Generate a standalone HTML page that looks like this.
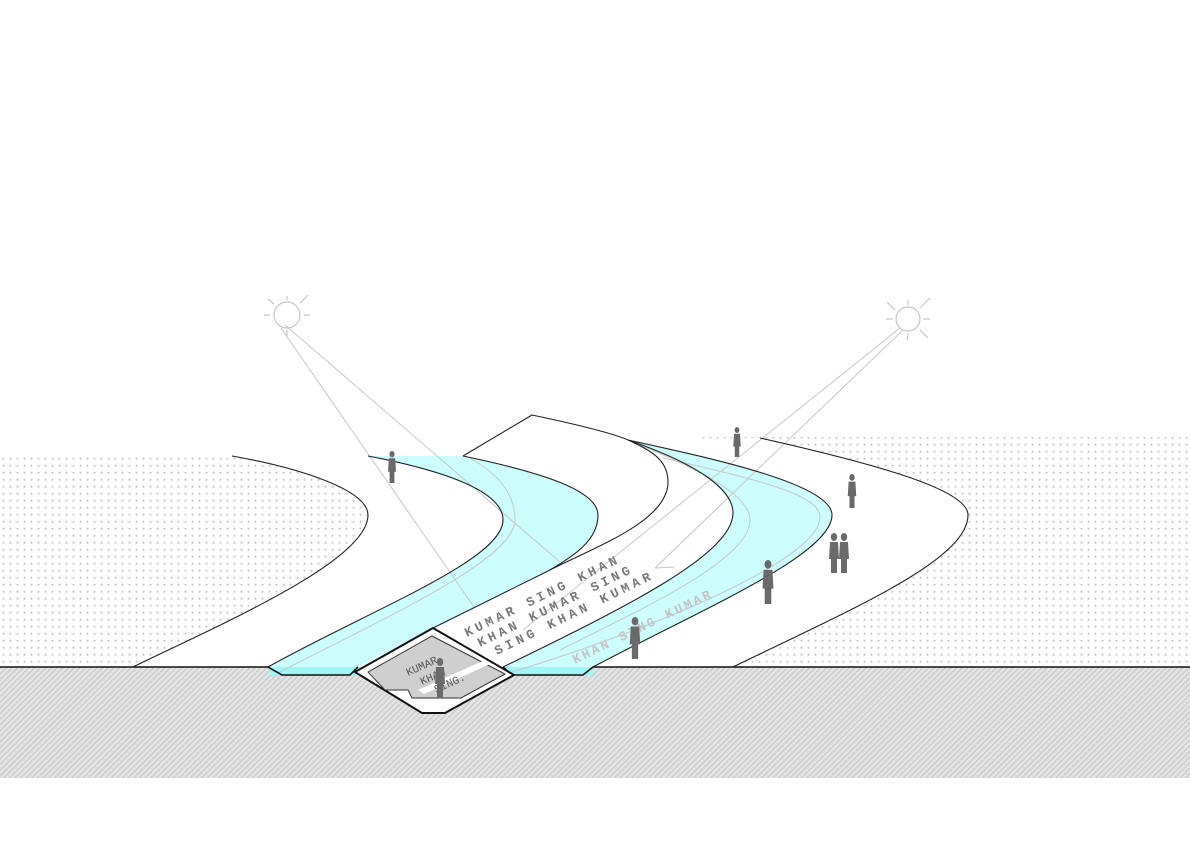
<!DOCTYPE html>
<html><head><meta charset="utf-8"><style>
html,body{margin:0;padding:0;background:#fff;}
svg{display:block;}
</style></head><body>
<svg width="1190" height="841" viewBox="0 0 1190 841" xmlns="http://www.w3.org/2000/svg">
<defs>
<pattern id="dots" width="7" height="7" patternUnits="userSpaceOnUse">
<rect x="3" y="2.5" width="1" height="2.5" fill="#cfcfcf"/>
<rect x="2.3" y="3.2" width="2.5" height="1" fill="#cfcfcf"/>
</pattern>
<pattern id="hatch" width="4" height="4" patternUnits="userSpaceOnUse" patternTransform="rotate(45)">
<rect width="4" height="4" fill="#e4e4e4"/>
<rect width="1.3" height="4" fill="#c9c9c9"/>
</pattern>
<g id="p">
<ellipse cx="0" cy="-36" rx="3.2" ry="4" fill="#6a6a6a"/>
<path d="M-4,-31 L4,-31 L5,-14 L3,-14 L3,0 L-3,0 L-3,-14 L-5,-14 Z" fill="#6a6a6a"/>
</g>
</defs>
<rect x="0" y="0" width="1190" height="841" fill="#fff"/>
<rect x="0" y="455" width="500" height="212" fill="url(#dots)"/>
<rect x="700" y="437" width="490" height="230" fill="url(#dots)"/>
<rect x="0" y="667" width="1190" height="111" fill="url(#hatch)"/>

<path d="M232,456 C300,468 368,490 368,515 C368,560 230,620 133,667 L733,667 C850,610 968,560 968,515 C968,490 880,465 760,438 L628,440 L532,415 L463,456 Z" fill="#fff"/>

<path d="M368,456 L463,456 C540,472 598,490 598,515 C598,540 575,555 550,570 L433,628 L358,667 L350,675 L282,675 L268,667 C370,610 503,560 503,520 C503,490 440,470 368,456 Z" fill="#ccfcfc"/>
<path d="M628,440 C655,452 668,462 668,482 C668,520 600,545 550,570 C575,555 598,540 598,515 C598,490 540,472 463,456 L532,415 C570,423 610,432 628,440 Z" fill="#fff"/>
<path d="M628,440 C720,460 832,485 832,515 C832,555 700,610 593,667 L583,675 L512,675 L503,667 C620,610 733,555 733,513 C733,490 700,465 628,440 Z" fill="#ccfcfc"/>
<rect x="270" y="667" width="90" height="8" fill="#9ff6f6"/>
<rect x="505" y="667" width="88" height="8" fill="#9ff6f6"/>

<g fill="none" stroke="#c8c8c8" stroke-width="1">
<path d="M470,458 C500,475 515,495 515,520 C515,560 380,620 278,673"/>
<path d="M663,458 C760,480 820,495 820,517 C820,560 650,630 512,672"/>
<path d="M640,445 C700,470 750,495 750,520 C750,560 640,610 560,650"/>
<line x1="281" y1="328" x2="474" y2="607"/>
<line x1="285" y1="325" x2="560" y2="562"/>
<line x1="900" y1="328" x2="523" y2="630"/>
<line x1="903" y1="330" x2="655" y2="568"/>
<line x1="655" y1="568" x2="675" y2="567"/>
</g>

<g fill="none" stroke="#c8c8c8" stroke-width="1.2">
<circle cx="287" cy="315" r="13"/>
<line x1="287" y1="296" x2="287" y2="300"/><line x1="287" y1="330" x2="287" y2="336"/>
<line x1="264" y1="315" x2="270" y2="315"/><line x1="304" y1="315" x2="310" y2="315"/>
<line x1="268" y1="299" x2="274" y2="304"/><line x1="300" y1="303" x2="308" y2="295"/>
<circle cx="908" cy="319" r="12"/>
<line x1="908" y1="300" x2="908" y2="305"/><line x1="908" y1="333" x2="907" y2="340"/>
<line x1="886" y1="319" x2="893" y2="319"/><line x1="923" y1="319" x2="930" y2="319"/>
<line x1="887" y1="302" x2="895" y2="310"/><line x1="920" y1="308" x2="930" y2="298"/>
<line x1="920" y1="330" x2="928" y2="338"/>
</g>

<g fill="none" stroke="#222" stroke-width="1.1">
<path d="M232,456 C300,468 368,490 368,515 C368,560 230,620 133,667"/>
<path d="M368,456 C440,470 503,490 503,520 C503,560 370,610 268,667"/>
<path d="M463,456 C540,472 598,490 598,515 C598,540 575,555 550,570 L433,628"/>
<path d="M463,456 L532,415 C570,423 610,432 628,440"/>
<path d="M628,440 C655,452 668,462 668,482 C668,520 600,545 550,570"/>
<path d="M628,440 C700,465 733,490 733,513 C733,555 620,610 503,667"/>
<path d="M628,440 C720,460 832,485 832,515 C832,555 700,610 593,667"/>
<path d="M760,438 C880,465 968,490 968,515 C968,560 850,610 733,667"/>
</g>
<g fill="none" stroke="#111" stroke-width="1.6">
<path d="M0,667 L268,667 L282,675 L350,675 L358,667"/>
<path d="M503,667 L512,675 L583,675 L593,667 L1190,667"/>
</g>

<path d="M355,672 L433,628 L514,675 L445,713 L422,713 Z" fill="#fff" stroke="#111" stroke-width="2"/>
<path d="M368,672 L432,636 L505,674 L461,698 L412,698 L408,690 L385,690 Z" fill="#cfcfcf" stroke="#333" stroke-width="1"/>
<path d="M418,690 L485,660 L490,664 L424,694 Z" fill="#fff"/>
<g font-family="Liberation Mono, monospace" font-size="11" fill="#555">
<text x="408" y="676" transform="rotate(-24 408 676)">KUMAR</text>
<text x="422" y="685" transform="rotate(-24 422 685)">KHAN</text>
<text x="436" y="693" transform="rotate(-24 436 693)">SING.</text>
</g>

<g font-family="Liberation Mono, monospace" font-size="13" font-weight="bold" fill="#7a7a7a">
<text x="467" y="637" transform="rotate(-26 467 637)" textLength="168" lengthAdjust="spacing">KUMAR  SING  KHAN</text>
<text x="480" y="647" transform="rotate(-26 480 647)" textLength="168" lengthAdjust="spacing">KHAN  KUMAR  SING</text>
<text x="497" y="655" transform="rotate(-26 497 655)" textLength="172" lengthAdjust="spacing">SING  KHAN  KUMAR</text>
<text x="575" y="664" transform="rotate(-26 575 664)" textLength="152" lengthAdjust="spacing" fill="#c4c4c4">KHAN  SING KUMAR</text>
</g>

<use href="#p" transform="translate(392 483) scale(0.8)"/>
<use href="#p" transform="translate(737 457) scale(0.75)"/>
<use href="#p" transform="translate(852 508) scale(0.85)"/>
<use href="#p" transform="translate(834 573)"/>
<use href="#p" transform="translate(844 573)"/>
<use href="#p" transform="translate(768 604) scale(1.1)"/>
<use href="#p" transform="translate(635 659) scale(1.05)"/>
<use href="#p" transform="translate(440 698)"/>
</svg>
</body></html>
